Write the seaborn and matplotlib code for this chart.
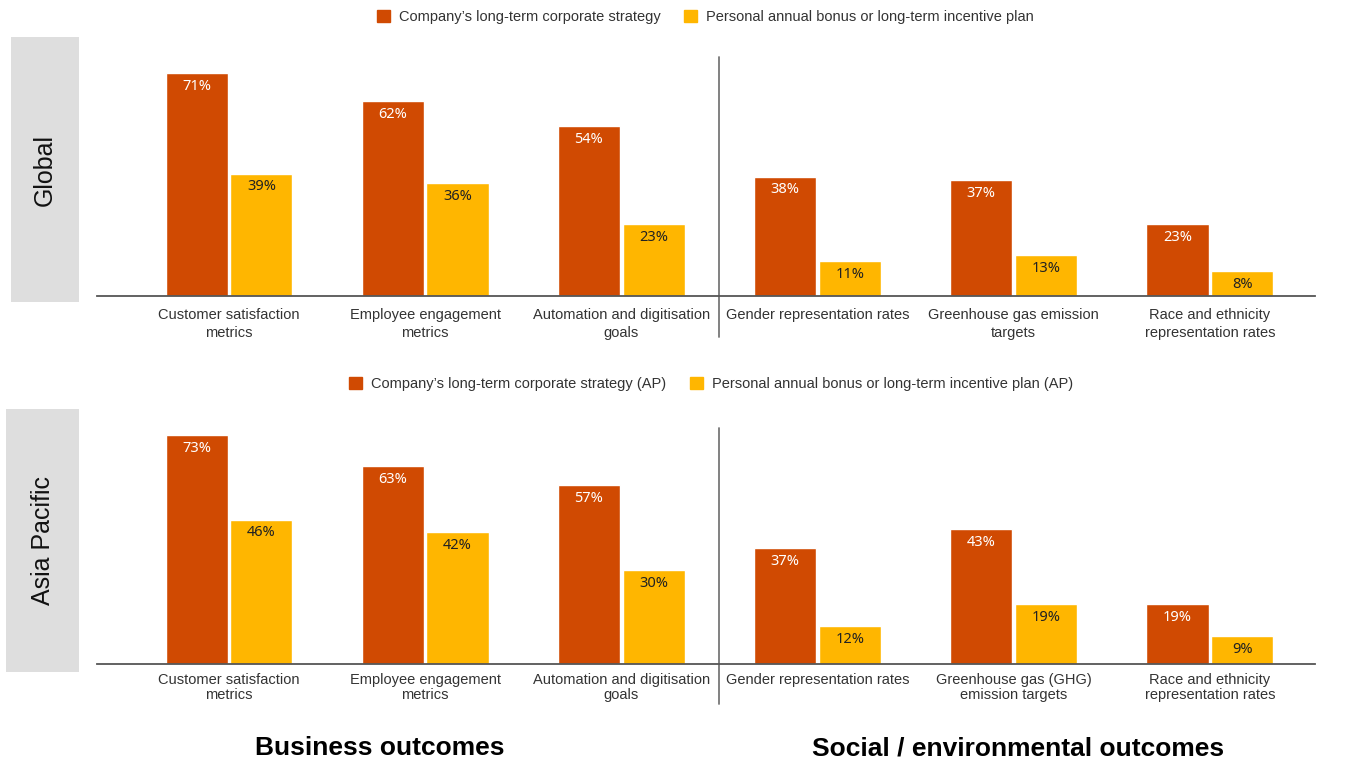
import matplotlib
matplotlib.use("Agg")
import matplotlib.pyplot as plt
import seaborn as sns
import pandas as pd
from matplotlib.patches import Patch, Rectangle

# data
cats_global = ["Customer satisfaction\nmetrics", "Employee engagement\nmetrics",
               "Automation and digitisation\ngoals", "Gender representation rates",
               "Greenhouse gas emission\ntargets", "Race and ethnicity\nrepresentation rates"]
cats_ap = ["Customer satisfaction\nmetrics", "Employee engagement\nmetrics",
           "Automation and digitisation\ngoals", "Gender representation rates",
           "Greenhouse gas (GHG)\nemission targets", "Race and ethnicity\nrepresentation rates"]
strategy_global = [71, 62, 54, 38, 37, 23]
bonus_global = [39, 36, 23, 11, 13, 8]
strategy_ap = [73, 63, 57, 37, 43, 19]
bonus_ap = [46, 42, 30, 12, 19, 9]
series_global = ["Company\u2019s long-term corporate strategy",
                 "Personal annual bonus or long-term incentive plan"]
series_ap = ["Company\u2019s long-term corporate strategy (AP)",
             "Personal annual bonus or long-term incentive plan (AP)"]
region_names = ["Global", "Asia Pacific"]
group_titles = ["Business outcomes", "Social / environmental outcomes"]

ORANGE = "#D04A02"
YELLOW = "#FFB600"

sns.set_style("white")
plt.rcParams["font.family"] = ["Liberation Sans", "DejaVu Sans"]

W, H = 1345, 760
fig = plt.figure(figsize=(W / 100, H / 100), dpi=100)


def px_axes(x0, y0, x1, y1):
    return fig.add_axes([x0 / W, 1 - y1 / H, (x1 - x0) / W, (y1 - y0) / H])


def draw_panel(ax, cats, s1, s2, names, ymax, linesp, pad):
    df = pd.DataFrame({
        "cat": cats * 2,
        "series": [names[0]] * len(cats) + [names[1]] * len(cats),
        "value": s1 + s2,
    })
    sns.barplot(data=df, x="cat", y="value", hue="series", order=cats,
                hue_order=names, palette=[ORANGE, YELLOW], width=0.66,
                gap=0.04, saturation=1, ax=ax, legend=False)
    for cont, col in zip(ax.containers, ["white", "#222222"]):
        ax.bar_label(cont, labels=[f"{int(v)}%" for v in cont.datavalues],
                     padding=-15, color=col, fontsize=10.5, family="Noto Sans")
    ax.set_xlim(-0.673, 5.536)
    ax.set_ylim(0, ymax)
    ax.set_xlabel("")
    ax.set_ylabel("")
    ax.set_yticks([])
    ax.tick_params(axis="x", length=0, pad=pad, labelsize=10.5, labelcolor="#333333")
    for lab in ax.get_xticklabels():
        lab.set_linespacing(linesp)
    for s in ["top", "right", "left"]:
        ax.spines[s].set_visible(False)
    ax.spines["bottom"].set_color("#555555")
    ax.spines["bottom"].set_linewidth(1.3)
    ax.axvline(2.5, ymin=-0.17, ymax=1, color="#777777", lw=1.3, clip_on=False)
    handles = [Patch(color=ORANGE), Patch(color=YELLOW)]
    return handles


ax1 = px_axes(97, 57, 1315, 296)
h = draw_panel(ax1, cats_global, strategy_global, bonus_global, series_global, 76.1, 1.35, 8.5)
fig.legend(h, series_global, loc="center", bbox_to_anchor=(705 / W, 1 - 17 / H),
           ncol=2, frameon=False, fontsize=10.5, handlelength=0.9, handleheight=0.9,
           handletextpad=0.6, columnspacing=1.6, labelcolor="#333333")

ax2 = px_axes(97, 428, 1315, 664)
h = draw_panel(ax2, cats_ap, strategy_ap, bonus_ap, series_ap, 75.2, 1.05, 6.5)
fig.legend(h, series_ap, loc="center", bbox_to_anchor=(711 / W, 1 - 384 / H),
           ncol=2, frameon=False, fontsize=10.5, handlelength=0.9, handleheight=0.9,
           handletextpad=0.6, columnspacing=1.6, labelcolor="#333333")

# region side boxes
for (x0, y0, x1, y1), name in zip([(11, 37, 79, 302), (6, 409, 79, 672)], region_names):
    fig.add_artist(Rectangle((x0 / W, 1 - y1 / H), (x1 - x0) / W, (y1 - y0) / H,
                             transform=fig.transFigure, color="#DEDEDE", lw=0))
    fig.text((x0 + x1) / 2 / W, 1 - (y0 + y1) / 2 / H, name, rotation=90,
             ha="center", va="center", fontsize=18, color="#111111")

fig.text(380 / W, 1 - 748 / H, group_titles[0], ha="center", va="center",
         fontsize=19, fontweight="bold", color="#000000")
fig.text(1018 / W, 1 - 748 / H, group_titles[1], ha="center", va="center",
         fontsize=19, fontweight="bold", color="#000000")

fig.savefig("out.png", dpi=100)
